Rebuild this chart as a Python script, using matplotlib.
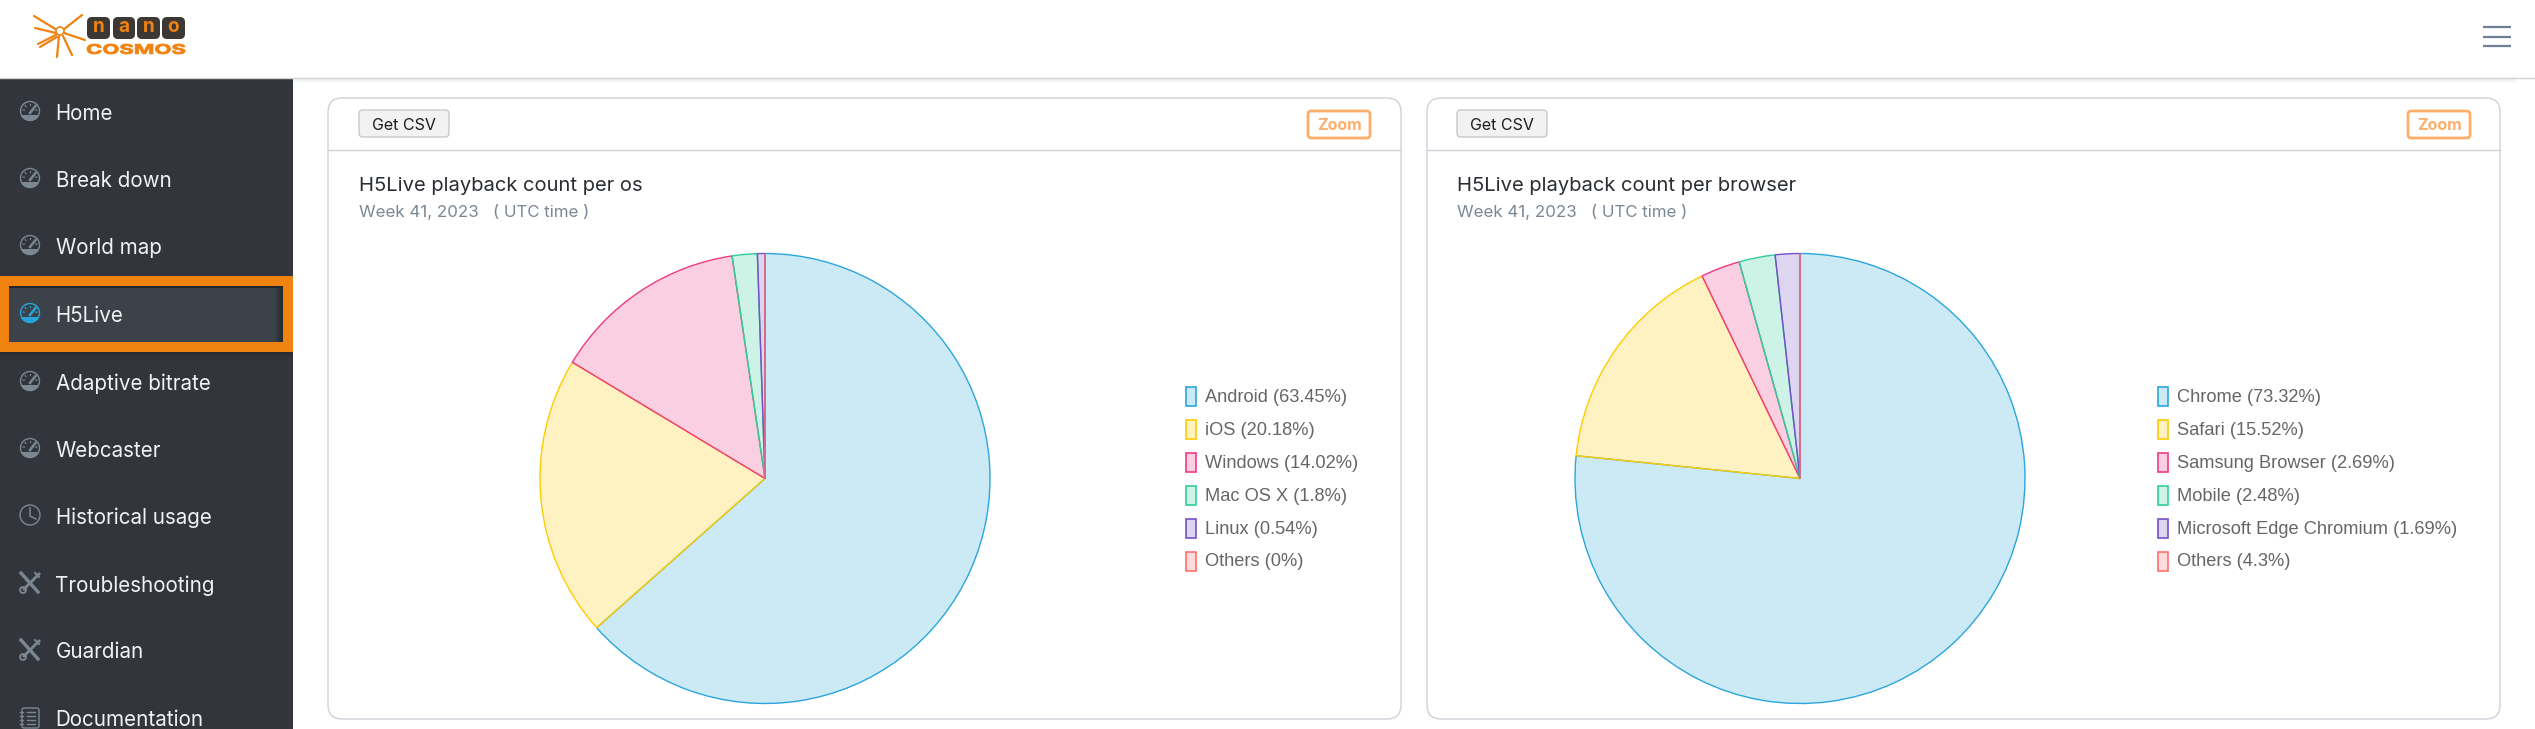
import matplotlib
matplotlib.use('Agg')
import matplotlib.pyplot as plt
from matplotlib.colors import to_rgba
from matplotlib.patches import Circle, FancyBboxPatch, PathPatch, Rectangle
from matplotlib.textpath import TextPath
from matplotlib.font_manager import FontProperties
from matplotlib.transforms import Affine2D

W, H = 2535, 729

# Chart data
os_labels = ['Android', 'iOS', 'Windows', 'Mac OS X', 'Linux', 'Others']
os_shares = ['63.45', '20.18', '14.02', '1.8', '0.54', '0']
os_slices = [63.45, 20.18, 14.02, 1.8, 0.54, 0]

browser_labels = ['Chrome', 'Safari', 'Samsung Browser', 'Mobile', 'Microsoft Edge Chromium', 'Others']
browser_shares = ['73.32', '15.52', '2.69', '2.48', '1.69', '4.3']
# the Others slice is listed at 4.3% but the pie draws it with no width
browser_slices = [73.32, 15.52, 2.69, 2.48, 1.69, 0]

slice_colors = ['#2ba6dc', '#ffcc00', '#ee3a86', '#2fcf9a', '#7650c8', '#ff6f6f']

menu_items = ['Home', 'Break down', 'World map', 'H5Live', 'Adaptive bitrate', 'Webcaster',
              'Historical usage', 'Troubleshooting', 'Guardian', 'Documentation']
menu_icons = ['gauge', 'gauge', 'gauge', 'gauge', 'gauge', 'gauge', 'clock', 'tools', 'tools', 'doc']
menu_y = [113.5, 180.5, 247.5, 315.5, 383.5, 450.5, 517.5, 585.5, 652.5, 719.5]

UI_FONT = 'Inter'
LEGEND_FONT = 'Liberation Sans'
ICON_GREY = '#7b8893'
ORANGE = '#f0820f'
BORDER = '#cdd2d9'


def px(size):
    # font size in pixels to points at dpi 100
    return size * 0.72


def fit_text(ax, s, x0, y0, x1, y1, color, weight='bold'):
    # text stretched into a pixel box, used for the logo lettering
    tp = TextPath((0, 0), s, size=10, prop=FontProperties(family=UI_FONT, weight=weight))
    bb = tp.get_extents()
    tr = Affine2D().translate(-bb.x0, -bb.y0).scale((x1 - x0) / bb.width, -(y1 - y0) / bb.height).translate(x0, y1)
    ax.add_patch(PathPatch(tp, transform=tr + ax.transData, fc=color, ec=color, lw=0.6, zorder=6))


def draw_logo(ax):
    hub = (60, 31)
    rays = [((34, 16), (57, 30)), ((35, 28), (56, 33)), ((85, 40), (64, 33)), ((82, 15), (63, 30)),
            ((38, 44), (56, 35)), ((40, 47), (57, 37)), ((57, 57), (59, 36)), ((72, 55), (63, 36))]
    for a, b in rays:
        ax.plot([a[0], b[0]], [a[1], b[1]], color=ORANGE, lw=1.6, solid_capstyle='round', zorder=5)
    ax.add_patch(Circle(hub, 4, fc='white', ec=ORANGE, lw=1.2, zorder=6))
    boxes = [(87, 110), (113, 135), (137, 160), (162, 185)]
    for (x0, x1), ch in zip(boxes, 'nano'):
        ax.add_patch(FancyBboxPatch((x0, 17), x1 - x0, 22, boxstyle='round,pad=0,rounding_size=5',
                                    fc='#3d3833', ec='none', zorder=5))
        ax.text((x0 + x1) / 2, 27, ch, color=ORANGE, fontsize=px(19), fontweight='bold',
                family=UI_FONT, ha='center', va='center', zorder=6)
    fit_text(ax, 'COSMOS', 87, 44, 185, 54, ORANGE)


def draw_gauge(ax, cx, cy, color):
    ax.add_patch(Circle((cx, cy), 9.5, fc='none', ec=color, lw=1.0, zorder=5))
    # dial base: lower part of the disc, cut flat by a clip box
    base = Circle((cx, cy), 10, fc=color, ec='none', zorder=5)
    ax.add_patch(base)
    base.set_clip_path(Rectangle((cx - 11, cy + 3.5), 22, 8, transform=ax.transData))
    ax.plot([cx, cx + 5.5], [cy + 2, cy - 5], color=color, lw=1.8, zorder=6)
    for dx, dy in [(-7, -1), (-5, -5.5), (0, -7.5), (7, -1)]:
        ax.plot([cx + dx, cx + dx * 0.8], [cy + dy, cy + dy * 0.8], color=color, lw=0.8, zorder=6)


def draw_clock(ax, cx, cy, color):
    ax.add_patch(Circle((cx, cy), 10, fc='none', ec=color, lw=1.0, zorder=5))
    ax.plot([cx, cx, cx + 6], [cy - 7, cy + 1, cy + 4], color=color, lw=1.1, zorder=6)


def draw_tools(ax, cx, cy, color):
    ax.plot([cx - 9, cx + 8], [cy - 10, cy + 9], color=color, lw=2.4, zorder=5)
    ax.plot([cx + 9, cx - 6], [cy - 9, cy + 6], color=color, lw=2.0, zorder=5)
    ax.add_patch(Circle((cx - 7, cy + 7), 3, fc='none', ec=color, lw=1.3, zorder=6))
    ax.plot([cx + 5, cx + 9], [cy - 10, cy - 6], color=color, lw=1.4, zorder=6)


def draw_doc(ax, cx, cy, color):
    ax.add_patch(FancyBboxPatch((cx - 8, cy - 10), 17, 20, boxstyle='round,pad=0,rounding_size=2',
                                fc='none', ec=color, lw=1.0, zorder=5))
    for i in range(4):
        ax.plot([cx - 3, cx + 5], [cy - 6 + i * 4, cy - 6 + i * 4], color=color, lw=1.0, zorder=6)
        ax.plot([cx - 10, cx - 7], [cy - 6 + i * 4, cy - 6 + i * 4], color=color, lw=1.0, zorder=6)


def draw_sidebar(ax):
    ax.add_patch(Rectangle((0, 78), 293, H - 78, fc='#32363c', ec='none', zorder=1))
    # selected entry
    ax.add_patch(Rectangle((0, 276), 293, 76, fc=ORANGE, ec='none', zorder=2))
    ax.add_patch(Rectangle((9, 286), 274, 56, fc='#3c4249', ec='none', zorder=3))
    ax.add_patch(Rectangle((9, 286), 274, 2, fc='#24272b', ec='none', zorder=3))
    for i in range(8):
        ax.add_patch(Rectangle((275 + i, 288), 1, 54, fc='#1e2125', alpha=0.1 + i * 0.09, ec='none', zorder=3))
    for i in range(5):
        ax.add_patch(Rectangle((0, 352 + i), 293, 1, fc='#1e2125', alpha=0.5 - i * 0.1, ec='none', zorder=3))
    for name, icon, y in zip(menu_items, menu_icons, menu_y):
        active = name == 'H5Live'
        color = '#2aa3d8' if active else ICON_GREY
        if icon == 'gauge':
            draw_gauge(ax, 30, y - 2.5, color)
        elif icon == 'clock':
            draw_clock(ax, 30, y - 2.5, color)
        elif icon == 'tools':
            draw_tools(ax, 30, y - 2.5, color)
        else:
            draw_doc(ax, 30, y - 1.5, color)
        ax.text(55.5, y, name, color='#f0f2f4', fontsize=px(20.6), family=UI_FONT, va='center', zorder=6,
                clip_on=True)


def draw_card(ax, x0, x1, title, btn_x, zoom_x):
    y0, y1 = 98, 719
    ax.add_patch(FancyBboxPatch((x0, y0), x1 - x0, y1 - y0, boxstyle='round,pad=0,rounding_size=14',
                                fc='white', ec=BORDER, lw=1.0, zorder=2))
    ax.plot([x0, x1], [149.5, 149.5], color=BORDER, lw=1.0, zorder=3)
    ax.add_patch(FancyBboxPatch((btn_x, 110), 90, 27, boxstyle='round,pad=0,rounding_size=4',
                                fc='#f2f2f2', ec='#c8c8c8', lw=1.0, zorder=3))
    ax.text(btn_x + 45, 125.5, 'Get CSV', color='#1d1d1f', fontsize=px(16), family=UI_FONT,
            ha='center', va='center', zorder=4)
    ax.add_patch(FancyBboxPatch((zoom_x, 111), 62, 27, boxstyle='round,pad=0,rounding_size=3',
                                fc='white', ec='#fdae6b', lw=2.0, zorder=3))
    ax.text(zoom_x + 31, 125.5, 'Zoom', color='#fdae6b', fontsize=px(16), fontweight='bold', family=UI_FONT,
            ha='center', va='center', zorder=4)
    ax.text(btn_x, 185.5, title, color='#2a2e33', fontsize=px(20.2), family=UI_FONT, va='center', zorder=4)
    ax.text(btn_x, 211.5, 'Week 41, 2023   ( UTC time )', color='#7b8794', fontsize=px(16.9), family=UI_FONT,
            va='center', zorder=4)


def draw_pie(fig, cx, cy, r, slices):
    m = r * 1.03
    pie_ax = fig.add_axes([(cx - m) / W, 1 - (cy + m) / H, 2 * m / W, 2 * m / H])
    pie_ax.pie(slices, colors=[to_rgba(c, 0.24) for c in slice_colors], startangle=90, counterclock=False,
               normalize=True, wedgeprops={'linewidth': 1.0, 'joinstyle': 'miter'})
    for w, c in zip(pie_ax.patches, slice_colors):
        w.set_edgecolor(c)
    pie_ax.set_xlim(-1.03, 1.03)
    pie_ax.set_ylim(-1.03, 1.03)
    pie_ax.axis('off')


def draw_legend(ax, x, labels, shares):
    for i, (label, share, c) in enumerate(zip(labels, shares, slice_colors)):
        y = 396 + i * 33
        ax.add_patch(Rectangle((x, y - 9), 10, 19, fc=to_rgba(c, 0.24), ec=c, lw=1.2, zorder=4))
        ax.text(x + 19, y + 1, f'{label} ({share}%)', color='#666666', fontsize=px(18.3), family=LEGEND_FONT,
                va='center', zorder=4)


fig = plt.figure(figsize=(W / 100, H / 100), dpi=100, facecolor='white')
page = fig.add_axes([0, 0, 1, 1])
page.set_xlim(0, W)
page.set_ylim(H, 0)
page.axis('off')

# top bar
page.plot([0, W], [77.5, 77.5], color='#d0d2d5', lw=1.0, zorder=4)
for i in range(3):
    page.plot([293, W - 20], [79 + i, 79 + i], color='#f2f3f4', lw=0.7, zorder=1)
for y in [27, 36.5, 46]:
    page.plot([2483, 2511], [y, y], color='#6f7f95', lw=1.6, solid_capstyle='butt', zorder=4)

draw_logo(page)
draw_sidebar(page)

draw_card(page, 328, 1401, 'H5Live playback count per os', 359, 1308)
draw_card(page, 1427, 2500, 'H5Live playback count per browser', 1457, 2408)

draw_pie(fig, 765, 478.5, 225, os_slices)
draw_pie(fig, 1800, 478.5, 225, browser_slices)

draw_legend(page, 1186, os_labels, os_shares)
draw_legend(page, 2158, browser_labels, browser_shares)

fig.savefig('out.png', dpi=100)
